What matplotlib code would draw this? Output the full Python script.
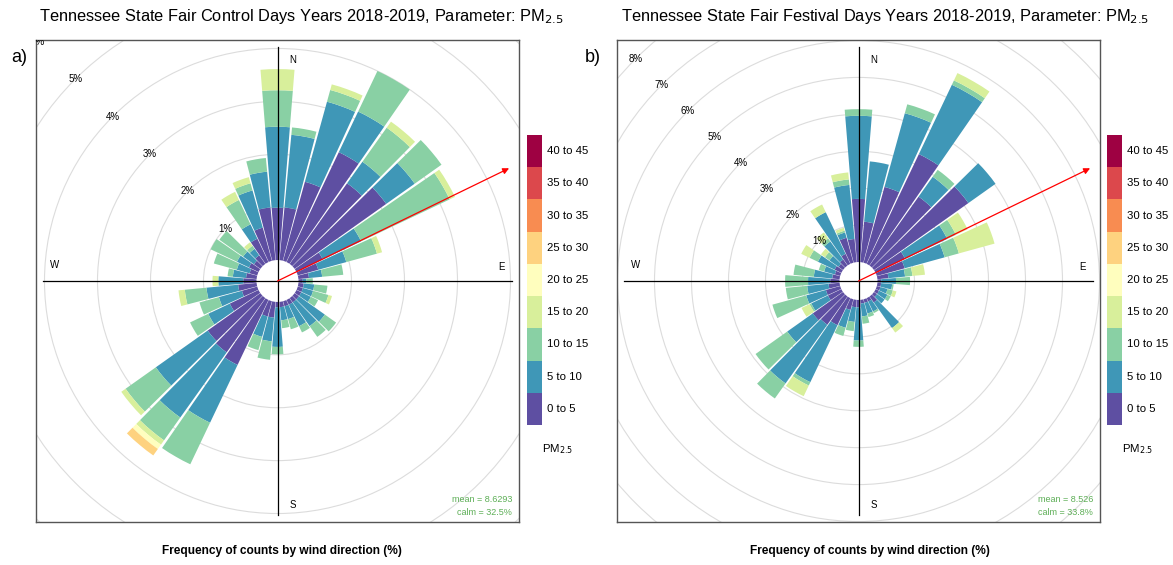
import numpy as np
import matplotlib.pyplot as plt
from matplotlib.patches import Wedge, Circle
from matplotlib.colors import LinearSegmentedColormap

plt.rcParams['font.family'] = ['Liberation Sans', 'DejaVu Sans']

# ---- data (percent of counts per 10 degree sector, by PM2.5 class) ----
directions = list(range(0, 360, 10))
bin_labels = ["0 to 5", "5 to 10", "10 to 15", "15 to 20", "20 to 25",
              "25 to 30", "30 to 35", "35 to 40", "40 to 45"]

# a) control days
ctrl_0_5 = [0.99, 1.00, 1.55, 2.30, 1.87, 2.12, 0.55, 0.40, 0.20, 0.08,
            0.10, 0.10, 0.10, 0.10, 0.10, 0.10, 0.10, 0.10, 0.10,
            0.30, 0.30, 1.36, 1.26, 1.22, 0.60, 0.30, 0.35, 0.25, 0.20,
            0.15, 0.20, 0.15, 0.20, 0.49, 0.65, 1.00]
ctrl_5_10 = [1.53, 1.38, 1.57, 0.85, 0.50, 0.66, 0.80, 0.55, 0.25, 0.07,
             0.20, 0.20, 0.20, 0.60, 0.55, 0.45, 0.25, 0.25, 0.75,
             0.45, 0.40, 1.21, 1.51, 1.20, 0.45, 0.45, 0.60, 0.47, 0.25,
             0.25, 0.25, 0.25, 0.15, 0.30, 0.73, 0.68]
ctrl_10_15 = [0.69, 0.14, 0.23, 0.85, 0.79, 0.62, 1.85, 0.60, 0.40, 0.12,
              0.25, 0.30, 0.15, 0.26, 0.25, 0.13, 0.20, 0.15, 0.14,
              0.35, 0.26, 0.87, 0.53, 0.70, 0.38, 0.38, 0.41, 0.00, 0.10,
              0.45, 0.55, 0.55, 0.07, 0.51, 0.14, 0.26]
ctrl_15_20 = [0.40, 0, 0.11, 0, 0.14, 0, 0.11, 0.10, 0, 0,
              0, 0.07, 0, 0, 0, 0, 0, 0, 0,
              0, 0, 0, 0.10, 0.10, 0, 0, 0.12, 0.11, 0,
              0, 0, 0, 0.08, 0.17, 0.12, 0]
ctrl_20_25 = [0, 0, 0, 0, 0, 0, 0, 0, 0, 0,
              0, 0, 0, 0, 0, 0, 0, 0, 0,
              0, 0, 0, 0.10, 0, 0, 0, 0, 0, 0,
              0, 0, 0, 0, 0, 0, 0]
ctrl_25_30 = [0, 0, 0, 0, 0, 0, 0, 0, 0, 0,
              0, 0, 0, 0, 0, 0, 0, 0, 0,
              0, 0, 0, 0.15, 0, 0, 0, 0, 0, 0,
              0, 0, 0, 0, 0, 0, 0]

# b) festival days
fest_0_5 = [1.71, 1.10, 2.13, 3.29, 2.29, 3.13, 0.88, 0.78, 0.30, 0.10,
            0.10, 0.10, 0.10, 0.10, 0.20, 0.10, 0.10, 0.10, 0.20,
            0.20, 0.30, 0.81, 0.94, 1.00, 0.40, 0.40, 0.30, 0.25, 0.20,
            0.15, 0.20, 0.15, 0.20, 0.30, 0.70, 0.63]
fest_5_10 = [2.25, 1.64, 2.07, 2.08, 0.66, 0.90, 1.26, 1.12, 0.45, 0.40,
             0.30, 0.20, 0.25, 0.25, 0.85, 0.30, 0.30, 0.35, 0.90,
             0.40, 0.50, 1.71, 1.95, 0.85, 0.50, 0.55, 0.58, 0.60, 0.50,
             0.30, 0.50, 0.30, 0.60, 1.25, 0.15, 1.47]
fest_10_15 = [0.18, 0, 0.25, 0.13, 0.23, 0, 0.26, 0.40, 0.20, 0.38,
              0.04, 0.15, 0.10, 0, 0, 0.05, 0.10, 0.20, 0.17,
              0.25, 0.23, 0.10, 0.50, 1.05, 0.05, 0.95, 0.58, 0.62, 0.55,
              0.15, 0.25, 0.15, 0.10, 0, 0.05, 0.15]
fest_15_20 = [0, 0, 0, 0.22, 0, 0, 0.35, 1.00, 0.34, 0,
              0, 0.10, 0, 0, 0.15, 0, 0, 0, 0,
              0, 0, 0.32, 0, 0, 0.24, 0, 0, 0, 0,
              0, 0.25, 0.13, 0.20, 0.23, 0.08, 0.19]

mean_dir = [64, 64]
mean_text = ["mean = 8.6293", "mean = 8.526"]
calm_text = ["calm = 32.5%", "calm = 33.8%"]
titles = ["Tennessee State Fair Control Days Years 2018-2019, Parameter: PM$_{2.5}$",
          "Tennessee State Fair Festival Days Years 2018-2019, Parameter: PM$_{2.5}$"]

# colours: openair default (Spectral, reversed, ramped to 9)
spectral = ["#5E4FA2", "#3288BD", "#66C2A5", "#ABDDA4", "#E6F598", "#FFFFBF",
            "#FEE08B", "#FDAE61", "#F46D43", "#D53E4F", "#9E0142"]
cmap = LinearSegmentedColormap.from_list("oa", spectral)
cols = [cmap(v) for v in np.linspace(0, 1, 9)]

W, H = 1173, 565
fig = plt.figure(figsize=(W / 100, H / 100), dpi=100)


def px_axes(x0, y0, w, h):
    return fig.add_axes([x0 / W, 1 - (y0 + h) / H, w / W, h / H])


def rose(ax, classes, hole, lim, nlab, mdir, mtxt, ctxt):
    ax.set_xlim(-lim, lim)
    ax.set_ylim(-lim, lim)
    ax.set_xticks([])
    ax.set_yticks([])
    for s in ax.spines.values():
        s.set_color('#555555')
        s.set_linewidth(1.0)
    # grid rings
    for k in range(1, 14):
        ax.add_patch(Circle((0, 0), hole + k, fill=False, ec='#dcdcdc', lw=0.8, zorder=1))
    # stacked wedges
    for i, d in enumerate(directions):
        base = hole
        for k, vals in enumerate(classes):
            v = vals[i]
            if v <= 0:
                continue
            ax.add_patch(Wedge((0, 0), base + v, 90 - d - 4.6, 90 - d + 4.6,
                               width=v, fc=cols[k], ec='none', zorder=2))
            base += v
    # axis cross
    L = 0.97 * lim
    ax.plot([-L, L], [0, 0], color='black', lw=0.9, zorder=3)
    ax.plot([0, 0], [-L, L], color='black', lw=0.9, zorder=3)
    # percent labels on the NW diagonal
    for k in range(1, nlab + 1):
        r = hole + k
        ax.text(-r / np.sqrt(2), r / np.sqrt(2), f"{k}%", fontsize=7,
                ha='center', va='center', clip_on=True, zorder=4)
    # mean wind direction arrow
    la = 1.067 * lim
    th = np.radians(mdir)
    ax.annotate('', xy=(la * np.sin(th), la * np.cos(th)), xytext=(0, 0),
                arrowprops=dict(arrowstyle='-|>', color='red', lw=0.9,
                                mutation_scale=9, shrinkA=0, shrinkB=0), zorder=5)
    for lab, x, y in [("N", 0.532, 0.958), ("W", 0.039, 0.533),
                      ("E", 0.963, 0.529), ("S", 0.532, 0.035)]:
        ax.text(x, y, lab, transform=ax.transAxes, fontsize=7, ha='center', va='center')
    ax.text(0.986, 0.046, mtxt, transform=ax.transAxes, fontsize=6.5,
            color='#5cae55', ha='right', va='center')
    ax.text(0.986, 0.019, ctxt, transform=ax.transAxes, fontsize=6.5,
            color='#5cae55', ha='right', va='center')


def legend(x0):
    lax = px_axes(x0, 135, 15, 290)
    lax.bar(np.zeros(9), np.ones(9), bottom=np.arange(9), color=cols, width=1.0)
    lax.set_xlim(-0.5, 0.5)
    lax.set_ylim(0, 9)
    lax.axis('off')
    for i, lab in enumerate(bin_labels):
        lax.text(0.85, i + 0.5, lab, fontsize=8.2, ha='left', va='center')
    fig.text((x0 + 31) / W, 1 - 449 / H, "PM$_{2.5}$", fontsize=8.2,
             ha='center', va='center')


ax_a = px_axes(36, 40, 483, 482)
rose(ax_a, [ctrl_0_5, ctrl_5_10, ctrl_10_15, ctrl_15_20, ctrl_20_25, ctrl_25_30],
     21 / 53, 241.5 / 53, 6, mean_dir[0], mean_text[0], calm_text[0])
legend(527)

ax_b = px_axes(617, 40, 483, 482)
rose(ax_b, [fest_0_5, fest_5_10, fest_10_15, fest_15_20],
     19 / 37, 241.5 / 37, 8, mean_dir[1], mean_text[1], calm_text[1])
legend(1107)

fig.text(301 / W, 1 - 17 / H, titles[0], fontsize=11.8, ha='center', va='center')
fig.text(885 / W, 1 - 17 / H, titles[1], fontsize=11.8, ha='center', va='center')
fig.text(19 / W, 1 - 57 / H, "a)", fontsize=13, ha='center', va='center')
fig.text(593 / W, 1 - 57 / H, "b)", fontsize=13, ha='center', va='center')
fig.text(282 / W, 1 - 551 / H, "Frequency of counts by wind direction (%)",
         fontsize=8.6, fontweight='bold', ha='center', va='center')
fig.text(870 / W, 1 - 551 / H, "Frequency of counts by wind direction (%)",
         fontsize=8.6, fontweight='bold', ha='center', va='center')

fig.savefig("out.png", dpi=100)
